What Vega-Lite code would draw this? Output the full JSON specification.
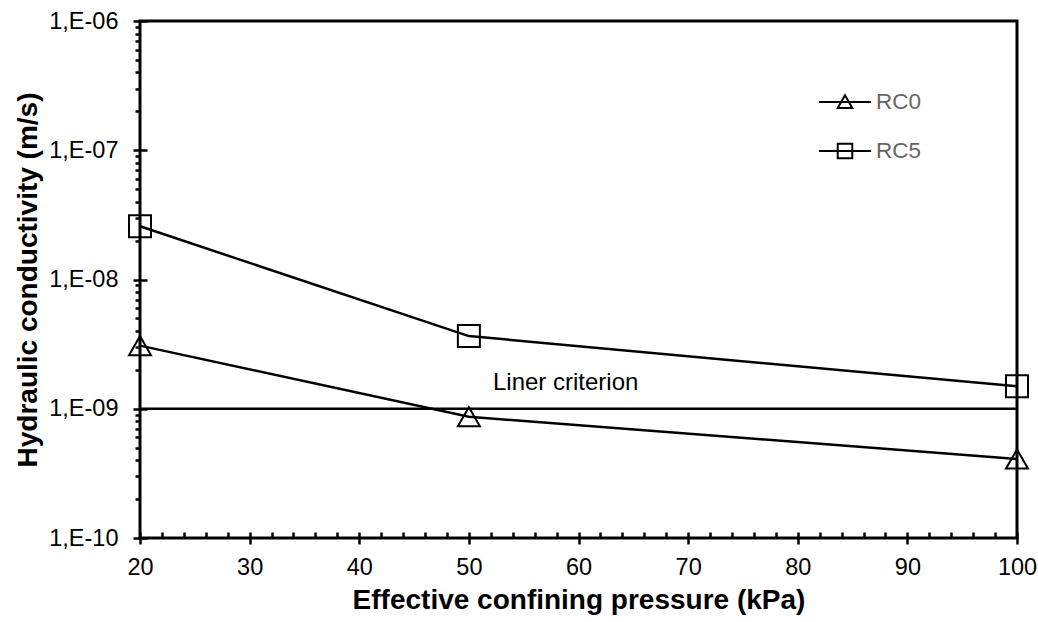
{
  "$schema": "https://vega.github.io/schema/vega-lite/v6.json",
  "width": 877,
  "height": 517,
  "autosize": {"type": "none"},
  "padding": {"left": 140, "top": 21, "right": 21, "bottom": 84},
  "background": "white",
  "config": {
    "font": "Liberation Sans",
    "view": {"stroke": "black", "strokeWidth": 3},
    "axis": {"grid": false, "domain": false, "ticks": true, "tickColor": "black", "tickOpacity": 1, "tickWidth": 2.5, "labelColor": "black", "titleColor": "black", "labelFont": "Liberation Sans", "titleFont": "Liberation Sans", "labelFlush": false, "labelOverlap": false}
  },
  "datasets": {
    "series": [
      {"pressure": 20, "k": 3.08e-9, "series": "RC0"},
      {"pressure": 50, "k": 8.67e-10, "series": "RC0"},
      {"pressure": 100, "k": 4.09e-10, "series": "RC0"},
      {"pressure": 20, "k": 2.58e-8, "series": "RC5"},
      {"pressure": 50, "k": 3.65e-9, "series": "RC5"},
      {"pressure": 100, "k": 1.49e-9, "series": "RC5"}
    ]
  },
  "resolve": {"axis": {"x": "independent", "y": "independent"}},
  "layer": [
    {
      "data": {"values": [{"k": 1e-9}]},
      "mark": {"type": "rule", "color": "black", "strokeWidth": 2.5},
      "encoding": {
        "y": {
          "field": "k", "type": "quantitative",
          "scale": {"type": "log", "domain": [1e-10, 1e-6], "nice": false},
          "axis": {
            "orient": "left", "values": [1e-10, 1e-9, 1e-8, 1e-7, 1e-6],
            "ticks": true, "tickColor": "black",
            "offset": -7, "tickSize": 14, "labelPadding": 15, "labelFontSize": 23.5,
            "labelExpr": "'1,E-' + pad(toString(round(-log(datum.value)/LN10)), 2, '0', 'left')",
            "title": "Hydraulic conductivity (m/s)", "titleFontSize": 28, "titleFontWeight": "bold", "titlePadding": 6
          }
        }
      }
    },
    {
      "data": {"name": "series"},
      "mark": {"type": "line", "color": "black", "strokeWidth": 2.5},
      "encoding": {
        "x": {
          "field": "pressure", "type": "quantitative",
          "scale": {"domain": [20, 100], "nice": false, "zero": false},
          "axis": {
            "orient": "bottom", "values": [20, 30, 40, 50, 60, 70, 80, 90, 100],
            "ticks": true, "tickColor": "black",
            "offset": -6, "tickSize": 12, "labelPadding": 11, "labelFontSize": 23.5,
            "title": "Effective confining pressure (kPa)", "titleFontSize": 28, "titleFontWeight": "bold", "titlePadding": 8
          }
        },
        "y": {
          "field": "k", "type": "quantitative",
          "scale": {"type": "log", "domain": [1e-10, 1e-6], "nice": false},
          "axis": {
            "orient": "left",
            "values": [2e-10, 3e-10, 4e-10, 5e-10, 6e-10, 7e-10, 8e-10, 9e-10, 2e-9, 3e-9, 4e-9, 5e-9, 6e-9, 7e-9, 8e-9, 9e-9, 2e-8, 3e-8, 4e-8, 5e-8, 6e-8, 7e-8, 8e-8, 9e-8, 2e-7, 3e-7, 4e-7, 5e-7, 6e-7, 7e-7, 8e-7, 9e-7],
            "ticks": true, "tickColor": "black",
            "tickSize": 5, "labels": false, "title": null
          }
        },
        "detail": {"field": "series"}
      }
    },
    {
      "data": {"name": "series"},
      "transform": [{"filter": "datum.series === 'RC0'"}],
      "mark": {"type": "point", "shape": "triangle-up", "filled": false, "color": "black", "strokeWidth": 2, "size": 484, "opacity": 1},
      "encoding": {
        "x": {
          "field": "pressure", "type": "quantitative",
          "scale": {"domain": [20, 100], "nice": false, "zero": false},
          "axis": {
            "orient": "bottom",
            "values": [22, 24, 26, 28, 32, 34, 36, 38, 42, 44, 46, 48, 52, 54, 56, 58, 62, 64, 66, 68, 72, 74, 76, 78, 82, 84, 86, 88, 92, 94, 96, 98],
            "ticks": true, "tickColor": "black",
            "offset": -6, "tickSize": 6, "labels": false, "title": null
          }
        },
        "y": {
          "field": "k", "type": "quantitative",
          "scale": {"type": "log", "domain": [1e-10, 1e-6], "nice": false},
          "axis": null
        }
      }
    },
    {
      "data": {"name": "series"},
      "transform": [{"filter": "datum.series === 'RC5'"}],
      "mark": {"type": "point", "shape": "square", "filled": false, "color": "black", "strokeWidth": 2, "size": 484, "opacity": 1},
      "encoding": {
        "x": {"field": "pressure", "type": "quantitative", "scale": {"domain": [20, 100], "nice": false, "zero": false}, "axis": null},
        "y": {"field": "k", "type": "quantitative", "scale": {"type": "log", "domain": [1e-10, 1e-6], "nice": false}, "axis": null}
      }
    },
    {
      "data": {"name": "series"},
      "mark": {"type": "point", "filled": false, "color": "black", "strokeWidth": 2, "opacity": 0},
      "encoding": {
        "x": {"field": "pressure", "type": "quantitative", "scale": {"domain": [20, 100], "nice": false, "zero": false}, "axis": null},
        "y": {"field": "k", "type": "quantitative", "scale": {"type": "log", "domain": [1e-10, 1e-6], "nice": false}, "axis": null},
        "shape": {
          "field": "series", "type": "nominal",
          "scale": {"domain": ["RC0", "RC5"], "range": ["M-1,0H1M-0.28,0.23L0,-0.26L0.28,0.23Z", "M-1,0H1M-0.28,-0.28H0.28V0.28H-0.28Z"]},
          "legend": {
            "orient": "none", "legendX": 678, "legendY": 54, "title": null, "padding": 0,
            "symbolSize": 2704, "symbolStrokeColor": "black", "symbolStrokeWidth": 2, "symbolFillColor": "transparent", "symbolOpacity": 1,
            "labelFontSize": 22.5, "labelColor": "#666666", "labelOffset": 4, "rowPadding": 10
          }
        }
      }
    },
    {
      "data": {"values": [{"pressure": 52.2, "k": 1.59e-9, "label": "Liner criterion"}]},
      "mark": {"type": "text", "align": "left", "baseline": "middle", "fontSize": 24, "color": "black", "font": "Liberation Sans"},
      "encoding": {
        "x": {"field": "pressure", "type": "quantitative", "scale": {"domain": [20, 100], "nice": false, "zero": false}, "axis": null},
        "y": {"field": "k", "type": "quantitative", "scale": {"type": "log", "domain": [1e-10, 1e-6], "nice": false}, "axis": null},
        "text": {"field": "label"}
      }
    }
  ]
}
